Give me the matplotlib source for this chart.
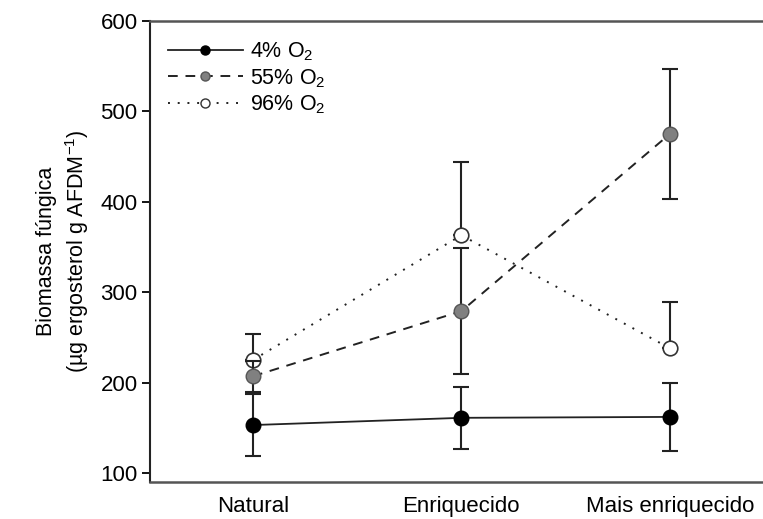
import numpy as np
import matplotlib
matplotlib.use("Agg")
import matplotlib.pyplot as plt
from matplotlib.lines import Line2D

plt.rcParams['font.family'] = ['Liberation Sans', 'DejaVu Sans']
plt.rcParams['mathtext.fontset'] = 'custom'
plt.rcParams['mathtext.rm'] = 'Liberation Sans'
plt.rcParams['mathtext.it'] = 'Liberation Sans'

categories = ["Natural", "Enriquecido", "Mais enriquecido"]
yticks = [100, 200, 300, 400, 500, 600]

o2_4 = [153, 161, 162]
o2_4_err = [34, 34, 38]
o2_55 = [207, 279, 475]
o2_55_err = [17, 70, 72]
o2_96 = [225, 363, 238]
o2_96_err_up = [29, 81, 51]

x = np.arange(len(categories))

fig = plt.figure(figsize=(7.63, 5.19), dpi=100)
ax = fig.add_axes([150 / 763, 37 / 519, 624 / 763, 461 / 519])

ms = 10.5
cap = 5.5

# white series first so the gray caps sit on top of the white markers
ax.errorbar(x, o2_96, yerr=[np.zeros(3), o2_96_err_up], fmt='none',
            ecolor='#222222', elinewidth=1.5, capsize=cap, capthick=1.5, zorder=2)
ax.plot(x, o2_96, linestyle=(0, (1, 4)), color='#222222', lw=1.4,
        marker='o', ms=ms, mfc='white', mec='#333333', mew=1.2, zorder=3)

ax.errorbar(x, o2_55, yerr=o2_55_err, fmt='none',
            ecolor='#222222', elinewidth=1.5, capsize=cap, capthick=1.5, zorder=4)
ax.plot(x, o2_55, linestyle=(0, (5, 4)), color='#222222', lw=1.4,
        marker='o', ms=ms, mfc='#808080', mec='#555555', mew=1.0, zorder=5)

ax.errorbar(x, o2_4, yerr=o2_4_err, fmt='none',
            ecolor='#222222', elinewidth=1.5, capsize=cap, capthick=1.5, zorder=6)
ax.plot(x, o2_4, linestyle='-', color='#222222', lw=1.3,
        marker='o', ms=ms, mfc='black', mec='black', zorder=7)

ax.set_xlim(-0.494, 2.5)
ax.set_ylim(90, 600)
ax.set_yticks(yticks)
ax.set_xticks(x)
ax.set_xticklabels(categories, fontsize=16)
ax.tick_params(axis='x', length=0, pad=10)
ax.tick_params(axis='y', length=6, width=1.3, labelsize=16, pad=3)
ax.spines['left'].set_linewidth(1.5)
ax.spines['left'].set_color('#222222')
ax.spines['bottom'].set_linewidth(1.8)
ax.spines['bottom'].set_color('#555555')
ax.spines['top'].set_linewidth(1.8)
ax.spines['top'].set_color('#555555')
ax.spines['right'].set_visible(False)

ax.set_ylabel("Biomassa fúngica\n(µg ergosterol g AFDM$^{-1}$)", fontsize=15.5,
              labelpad=7, linespacing=1.25)

handles = [
    Line2D([], [], linestyle='-', color='#222222', lw=1.3, marker='o', ms=6.5,
           mfc='black', mec='black'),
    Line2D([], [], linestyle=(0, (5, 4)), color='#222222', lw=1.4, marker='o', ms=6.5,
           mfc='#808080', mec='#555555'),
    Line2D([], [], linestyle=(0, (1, 4)), color='#222222', lw=1.4, marker='o', ms=6.5,
           mfc='white', mec='#333333'),
]
labels = ["4% O$_2$", "55% O$_2$", "96% O$_2$"]
ax.legend(handles, labels, loc='upper left', frameon=False, fontsize=15.5,
          handlelength=3.5, handletextpad=0.35, labelspacing=0.17,
          borderaxespad=0.3, bbox_to_anchor=(0.004, 0.99))

fig.savefig("out.png", dpi=100)
